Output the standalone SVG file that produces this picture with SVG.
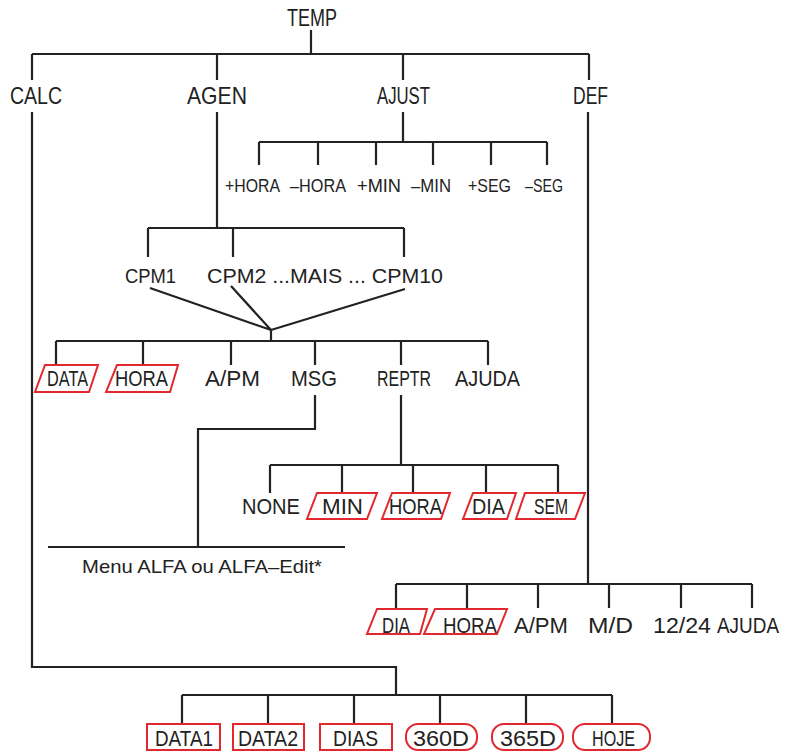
<svg xmlns="http://www.w3.org/2000/svg" width="787" height="754" viewBox="0 0 787 754">
<style>
text{font-family:"Liberation Sans",Arial,sans-serif;fill:#222;}
.l1{font-size:24px;}
.l2{font-size:19px;}
.l3{font-size:21px;}
.l4{font-size:22px;}
.l5{font-size:19px;}
.c{fill:none;stroke:#222;stroke-width:2.2;}
.b{fill:none;stroke:#e2282e;stroke-width:2;}
</style>
<rect width="787" height="754" fill="#fff"/>
<g id="connectors" class="c">
<path d="M311,30V54M32,54H589M32,54V80M217,54V80M403,54V80M589,54V80"/>
<path d="M403,112V142M259,142H547M259,142V165M318,142V165M376,142V165M433,142V165M491,142V165M547,142V165"/>
<path d="M217,112V228M148,228H404M148,228V257M233,228V257M404,228V257"/>
<path d="M150,288L271,330M231,286L271,330M405,289L271,330M271,330V341"/>
<path d="M56,341H488M56,341V365M143,341V365M231,341V365M315,341V365M401,341V365M488,341V365"/>
<path d="M315,395V429H198V547M48,547H345"/>
<path d="M401,395V465M270,465H558M270,465V493M342,465V493M413,465V493M486,465V493M558,465V493"/>
<path d="M588,112V584M396,584H752M396,584V608M467,584V608M538,584V608M609,584V608M681,584V608M752,584V608"/>
<path d="M32,112V667H396V695M182,695H612M182,695V724M268,695V724M354,695V724M440,695V724M526,695V724M612,695V724"/>
</g>
<g id="temp"><text class="l1" x="287" y="26" textLength="50" lengthAdjust="spacingAndGlyphs">TEMP</text></g>
<g id="calc"><text class="l1" x="10" y="104" textLength="52" lengthAdjust="spacingAndGlyphs">CALC</text></g>
<g id="agen"><text class="l1" x="187" y="104" textLength="60" lengthAdjust="spacingAndGlyphs">AGEN</text></g>
<g id="ajust"><text class="l1" x="377" y="104" textLength="53" lengthAdjust="spacingAndGlyphs">AJUST</text></g>
<g id="def"><text class="l1" x="573" y="104" textLength="35" lengthAdjust="spacingAndGlyphs">DEF</text></g>

<g id="plus-hora"><text class="l2" x="225" y="192" textLength="55" lengthAdjust="spacingAndGlyphs">+HORA</text></g>
<g id="minus-hora"><text class="l2" x="290" y="192" textLength="56" lengthAdjust="spacingAndGlyphs">–HORA</text></g>
<g id="plus-min"><text class="l2" x="357" y="192" textLength="44" lengthAdjust="spacingAndGlyphs">+MIN</text></g>
<g id="minus-min"><text class="l2" x="411" y="192" textLength="40" lengthAdjust="spacingAndGlyphs">–MIN</text></g>
<g id="plus-seg"><text class="l2" x="468" y="192" textLength="43" lengthAdjust="spacingAndGlyphs">+SEG</text></g>
<g id="minus-seg"><text class="l2" x="525" y="192" textLength="38" lengthAdjust="spacingAndGlyphs">–SEG</text></g>

<g id="cpm1"><text class="l3" x="125" y="283" textLength="51" lengthAdjust="spacingAndGlyphs">CPM1</text></g>
<g id="cpm2-10"><text class="l3" x="207" y="283" textLength="236" lengthAdjust="spacingAndGlyphs">CPM2 ...MAIS ... CPM10</text></g>

<g id="data"><polygon class="b" points="45,365 98,365 89,392 35,392"/><text class="l4" x="47" y="386" textLength="41" lengthAdjust="spacingAndGlyphs">DATA</text></g>
<g id="hora"><polygon class="b" points="117,365 178,365 170,392 106,392"/><text class="l4" x="115" y="386" textLength="53" lengthAdjust="spacingAndGlyphs">HORA</text></g>
<g id="apm"><text class="l4" x="205" y="386" textLength="55" lengthAdjust="spacingAndGlyphs">A/PM</text></g>
<g id="msg"><text class="l4" x="291" y="386" textLength="46" lengthAdjust="spacingAndGlyphs">MSG</text></g>
<g id="reptr"><text class="l4" x="377" y="386" textLength="54" lengthAdjust="spacingAndGlyphs">REPTR</text></g>
<g id="ajuda"><text class="l4" x="455" y="386" textLength="65" lengthAdjust="spacingAndGlyphs">AJUDA</text></g>

<g id="none"><text class="l4" x="242" y="514" textLength="58" lengthAdjust="spacingAndGlyphs">NONE</text></g>
<g id="r-min"><polygon class="b" points="317,493 377,493 367,519 307,519"/><text class="l4" x="322" y="514" textLength="41" lengthAdjust="spacingAndGlyphs">MIN</text></g>
<g id="r-hora"><polygon class="b" points="392,493 450,493 441,519 382,519"/><text class="l4" x="389" y="514" textLength="53" lengthAdjust="spacingAndGlyphs">HORA</text></g>
<g id="r-dia"><polygon class="b" points="473,493 516,493 507,519 463,519"/><text class="l4" x="472" y="514" textLength="33" lengthAdjust="spacingAndGlyphs">DIA</text></g>
<g id="r-sem"><polygon class="b" points="525,493 585,493 575,519 516,519"/><text class="l4" x="534" y="514" textLength="34" lengthAdjust="spacingAndGlyphs">SEM</text></g>

<g id="menu-alfa"><text class="l5" x="82" y="573" textLength="240" lengthAdjust="spacingAndGlyphs">Menu ALFA ou ALFA–Edit*</text></g>

<g id="d-dia"><polygon class="b" points="377,609 427,609 420,634 367,634"/><text class="l4" x="382" y="633" textLength="28" lengthAdjust="spacingAndGlyphs">DIA</text></g>
<g id="d-hora"><polygon class="b" points="435,609 507,609 497,634 424,634"/><text class="l4" x="443" y="633" textLength="54" lengthAdjust="spacingAndGlyphs">HORA</text></g>
<g id="d-apm"><text class="l4" x="514" y="633" textLength="54" lengthAdjust="spacingAndGlyphs">A/PM</text></g>
<g id="d-md"><text class="l4" x="588" y="633" textLength="45" lengthAdjust="spacingAndGlyphs">M/D</text></g>
<g id="d-1224"><text class="l4" x="653" y="633" textLength="58" lengthAdjust="spacingAndGlyphs">12/24</text></g>
<g id="d-ajuda"><text class="l4" x="717" y="633" textLength="62" lengthAdjust="spacingAndGlyphs">AJUDA</text></g>

<g id="data1"><rect class="b" x="147" y="724" width="73" height="26"/><text class="l4" x="155" y="746" textLength="58" lengthAdjust="spacingAndGlyphs">DATA1</text></g>
<g id="data2"><rect class="b" x="233" y="724" width="71" height="26"/><text class="l4" x="238" y="746" textLength="60" lengthAdjust="spacingAndGlyphs">DATA2</text></g>
<g id="dias"><rect class="b" x="320" y="724" width="72" height="26"/><text class="l4" x="333" y="746" textLength="45" lengthAdjust="spacingAndGlyphs">DIAS</text></g>
<g id="d360"><rect class="b" x="406" y="724" width="71" height="26" rx="12"/><text class="l4" x="413" y="746" textLength="56" lengthAdjust="spacingAndGlyphs">360D</text></g>
<g id="d365"><rect class="b" x="492" y="724" width="71" height="26" rx="12"/><text class="l4" x="500" y="746" textLength="56" lengthAdjust="spacingAndGlyphs">365D</text></g>
<g id="hoje"><rect class="b" x="573" y="724" width="77" height="26" rx="12"/><text class="l4" x="592" y="746" textLength="43" lengthAdjust="spacingAndGlyphs">HOJE</text></g>
</svg>
